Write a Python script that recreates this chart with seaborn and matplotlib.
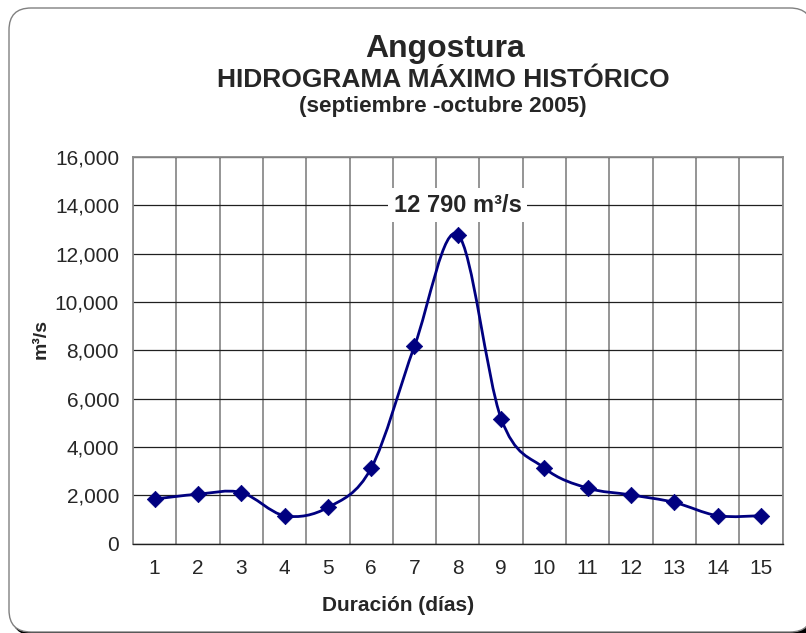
import numpy as np
import pandas as pd
import seaborn as sns
import matplotlib.pyplot as plt
from matplotlib.path import Path
from matplotlib.patches import PathPatch, FancyBboxPatch

dias = [1, 2, 3, 4, 5, 6, 7, 8, 9, 10, 11, 12, 13, 14, 15]
caudal = [1850, 2050, 2120, 1160, 1500, 3130, 8180, 12790, 5180, 3130, 2300, 2020, 1710, 1160, 1160]
y_ticks = [0, 2000, 4000, 6000, 8000, 10000, 12000, 14000, 16000]
pico_texto = "12 790 m³/s"

df = pd.DataFrame({'dia': dias, 'caudal': caudal})

sns.set_style('white')
plt.rcParams['font.family'] = ['Liberation Sans', 'DejaVu Sans']

fig, ax = plt.subplots(figsize=(8.06, 6.33), dpi=100)
fig.subplots_adjust(left=0.165, right=0.971, bottom=0.141, top=0.752)

# Marco redondeado con sombra (se sale un poco por la derecha y abajo)
sombra = FancyBboxPatch((0.12, -0.02), 8.03, 6.24, boxstyle="round,pad=0,rounding_size=0.22",
                        transform=fig.dpi_scale_trans, facecolor='black', edgecolor='black', zorder=-3)
marco = FancyBboxPatch((0.09, 0.01), 8.03, 6.24, boxstyle="round,pad=0,rounding_size=0.22",
                       transform=fig.dpi_scale_trans, facecolor='white', edgecolor='#808080',
                       linewidth=1, zorder=-2)
fig.patches.extend([sombra, marco])

# Linea suavizada (Bezier tipo Catmull-Rom, como Excel)
pts = df[['dia', 'caudal']].to_numpy(dtype=float)
n = len(pts)
verts = [pts[0]]
codes = [Path.MOVETO]
for i in range(n - 1):
    p_prev = pts[i - 1] if i > 0 else pts[i]
    p_next = pts[i + 2] if i + 2 < n else pts[i + 1]
    c1 = pts[i] + (pts[i + 1] - p_prev) / 6
    c2 = pts[i + 1] - (p_next - pts[i]) / 6
    verts += [c1, c2, pts[i + 1]]
    codes += [Path.CURVE4] * 3
ax.add_patch(PathPatch(Path(verts, codes), facecolor='none', edgecolor='#000080',
                       linewidth=2, zorder=3))

sns.scatterplot(data=df, x='dia', y='caudal', marker='D', s=70, color='#000080',
                edgecolor='#000080', linewidth=0.5, ax=ax, zorder=4)

# Ejes
ax.set_xlim(0.5, 15.5)
ax.set_ylim(0, 16000)
ax.set_xticks(dias)
ax.set_xticklabels([str(d) for d in dias])
ax.set_xticks(np.arange(0.5, 16, 1), minor=True)
ax.set_yticks(y_ticks)
ax.set_yticklabels([f'{v:,}' for v in y_ticks])
ax.tick_params(axis='x', which='major', length=0, pad=11, labelsize=15)
ax.tick_params(axis='x', which='minor', length=6, width=1, color='#202020', direction='out')
ax.tick_params(axis='y', which='major', length=6, width=1, color='#202020', direction='out',
               pad=4, labelsize=15)
ax.grid(axis='x', which='minor', color='#8c8c8c', linewidth=1.3)
ax.grid(axis='y', which='major', color='#202020', linewidth=0.9)
ax.set_axisbelow(True)
for lado in ['left', 'right', 'top']:
    ax.spines[lado].set_color('#8c8c8c')
    ax.spines[lado].set_linewidth(1.3)
ax.spines['bottom'].set_color('#202020')
ax.spines['bottom'].set_linewidth(1)

ax.set_xlabel('Duración (días)', fontsize=15, fontweight='bold')
ax.set_ylabel('m³/s', fontsize=14, fontweight='bold')
ax.xaxis.set_label_coords(0.408, -0.135)
ax.yaxis.set_label_coords(-0.128, 0.53)

# Etiqueta del pico
ax.text(dias[7], 14000, pico_texto, ha='center', va='center', fontsize=17, fontweight='bold',
        bbox=dict(facecolor='white', edgecolor='none', pad=4), zorder=5)

# Titulos
fig.text(0.552, 0.910, 'Angostura', ha='center', va='baseline', fontsize=23, fontweight='bold')
fig.text(0.550, 0.8626, 'HIDROGRAMA MÁXIMO HISTÓRICO', ha='center', va='baseline',
         fontsize=19, fontweight='bold')
fig.text(0.550, 0.823, '(septiembre -octubre 2005)', ha='center', va='baseline',
         fontsize=16.2, fontweight='bold')

fig.savefig('out.png', dpi=100)
